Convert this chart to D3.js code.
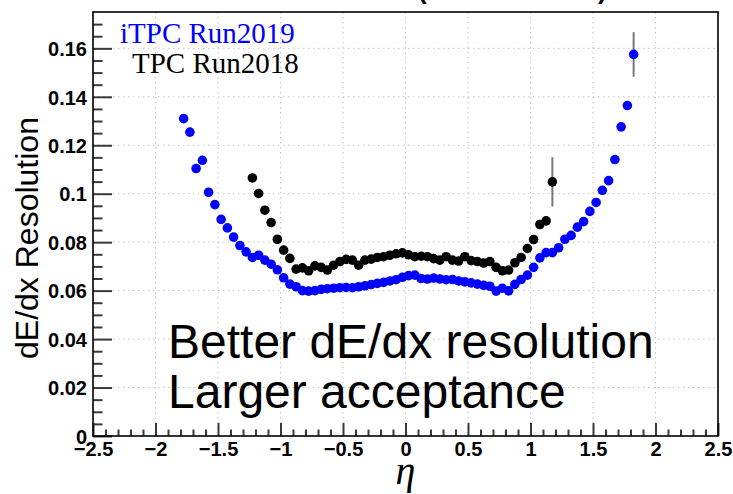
<!DOCTYPE html>
<html><head><meta charset="utf-8">
<script src="https://cdn.jsdelivr.net/npm/d3@7/dist/d3.min.js"></script>
<style>
html,body{margin:0;padding:0;background:#fff;}
svg{display:block;}
</style></head>
<body>
<svg id="chart" width="733" height="494"></svg>
<script>
// ---- data ----
const itpcEta = [-1.775,-1.725,-1.675,-1.625,-1.575,-1.525,-1.475,-1.425,-1.375,-1.325,-1.275,-1.225,-1.175,-1.125,-1.075,-1.025,-0.975,-0.925,-0.875,-0.825,-0.775,-0.725,-0.675,-0.625,-0.575,-0.525,-0.475,-0.425,-0.375,-0.325,-0.275,-0.225,-0.175,-0.125,-0.075,-0.025,0.025,0.075,0.125,0.175,0.225,0.275,0.325,0.375,0.425,0.475,0.525,0.575,0.625,0.675,0.725,0.775,0.825,0.875,0.925,0.975,1.025,1.075,1.125,1.175,1.225,1.275,1.325,1.375,1.425,1.475,1.525,1.575,1.625,1.675,1.725,1.775,1.825];
const itpcRes = [0.1310,0.1254,0.1104,0.1138,0.1006,0.0955,0.0894,0.0859,0.0821,0.0786,0.0760,0.0737,0.0746,0.0726,0.0709,0.0686,0.0653,0.0627,0.0616,0.0600,0.0598,0.0600,0.0605,0.0608,0.0610,0.0612,0.0613,0.0612,0.0616,0.0620,0.0625,0.0630,0.0634,0.0640,0.0645,0.0655,0.0662,0.0664,0.0650,0.0648,0.0652,0.0648,0.0645,0.0646,0.0640,0.0636,0.0632,0.0627,0.0622,0.0618,0.0598,0.0610,0.0599,0.0626,0.0646,0.0664,0.0696,0.0735,0.0757,0.0757,0.0777,0.0812,0.0828,0.0862,0.0885,0.0927,0.0964,0.1014,0.1054,0.1141,0.1276,0.1364,0.1575];
const tpcEta = [-1.225,-1.175,-1.125,-1.075,-1.025,-0.975,-0.925,-0.875,-0.825,-0.775,-0.725,-0.675,-0.625,-0.575,-0.525,-0.475,-0.425,-0.375,-0.325,-0.275,-0.225,-0.175,-0.125,-0.075,-0.025,0.025,0.075,0.125,0.175,0.225,0.275,0.325,0.375,0.425,0.475,0.525,0.575,0.625,0.675,0.725,0.775,0.825,0.875,0.925,0.975,1.025,1.075,1.125,1.175];
const tpcRes = [0.1065,0.1001,0.0932,0.0881,0.0812,0.0767,0.0733,0.0689,0.0694,0.0682,0.0702,0.0696,0.0685,0.0705,0.0720,0.0729,0.0726,0.0705,0.0726,0.0730,0.0737,0.0740,0.0746,0.0752,0.0756,0.0748,0.0740,0.0742,0.0740,0.0732,0.0726,0.0740,0.0726,0.0722,0.0740,0.0724,0.0720,0.0714,0.0720,0.0696,0.0682,0.0685,0.0715,0.0737,0.0774,0.0811,0.0873,0.0888,0.1049];
// visible error bars (eta, half-width)
const itpcErrEta = [1.825];
const itpcErr = [0.0092];
const tpcErrEta = [1.175];
const tpcErr = [0.0102];
const xMajor = [-2.5,-2,-1.5,-1,-0.5,0,0.5,1,1.5,2,2.5];
const xMinor = [-2.4,-2.3,-2.2,-2.1,-1.9,-1.8,-1.7,-1.6,-1.4,-1.3,-1.2,-1.1,-0.9,-0.8,-0.7,-0.6,-0.4,-0.3,-0.2,-0.1,0.1,0.2,0.3,0.4,0.6,0.7,0.8,0.9,1.1,1.2,1.3,1.4,1.6,1.7,1.8,1.9,2.1,2.2,2.3,2.4];
const yMajor = [0,0.02,0.04,0.06,0.08,0.1,0.12,0.14,0.16];
const yMinor = [0.005,0.01,0.015,0.025,0.03,0.035,0.045,0.05,0.055,0.065,0.07,0.075,0.085,0.09,0.095,0.105,0.11,0.115,0.125,0.13,0.135,0.145,0.15,0.155,0.165,0.17];
const seriesNames = ["iTPC Run2019","TPC Run2018"];
const notes = ["Better dE/dx resolution","Larger acceptance"];

// ---- layout ----
const svg = d3.select("#chart");
const L = 93, R = 718, T = 12, B = 436;
const x = d3.scaleLinear().domain([-2.5,2.5]).range([L,R]);
const y = d3.scaleLinear().domain([0,0.175]).range([B,T]);
const labelFont = "'Liberation Sans', Arial, sans-serif";

// partial (cut-off) title
const tg = svg.append("g").attr("font-family",labelFont).attr("font-weight","bold").attr("font-size",26).attr("fill","#000");
tg.append("text").attr("x",418).attr("y",-1).text("(");
tg.append("text").attr("x",598).attr("y",-1).text(")");

// grid
const grid = svg.append("g").attr("stroke","#c4c4c4").attr("stroke-width",1).attr("stroke-dasharray","1.5,3.5");
xMajor.slice(1,-1).forEach(v=>grid.append("line").attr("x1",x(v)).attr("x2",x(v)).attr("y1",T).attr("y2",B));
yMajor.slice(1).forEach(v=>grid.append("line").attr("x1",L).attr("x2",R).attr("y1",y(v)).attr("y2",y(v)));

// axes
const fmt = d => d===0 ? "0" : d3.format("~g")(d).replace("-","\u2212");
const xAx = svg.append("g").attr("transform",`translate(0,${B})`)
  .call(d3.axisBottom(x).tickValues(xMajor).tickSizeInner(-13).tickSizeOuter(0).tickPadding(5).tickFormat(fmt));
const xAxMin = svg.append("g").attr("transform",`translate(0,${B})`)
  .call(d3.axisBottom(x).tickValues(xMinor).tickSizeInner(-6.5).tickSizeOuter(0).tickFormat(""));
const yAx = svg.append("g").attr("transform",`translate(${L},0)`)
  .call(d3.axisLeft(y).tickValues(yMajor).tickSizeInner(-19).tickSizeOuter(0).tickPadding(6).tickFormat(fmt));
const yAxMin = svg.append("g").attr("transform",`translate(${L},0)`)
  .call(d3.axisLeft(y).tickValues(yMinor).tickSizeInner(-9.5).tickSizeOuter(0).tickFormat(""));
[xAx,xAxMin,yAx,yAxMin].forEach(g=>{
  g.select(".domain").remove();
  g.selectAll(".tick line").attr("stroke","#3a3a3a").attr("stroke-width",2);
  g.selectAll("text").attr("font-family",labelFont).attr("font-weight","bold").attr("font-size",20).attr("fill","#000");
});
xAx.selectAll("text").attr("dy","0.74em");
yAx.selectAll("text").attr("dy","0.36em");

// frame
svg.append("rect").attr("x",L).attr("y",T).attr("width",R-L).attr("height",B-T)
  .attr("fill","none").attr("stroke","#000").attr("stroke-width",1.6);

// axis titles
svg.append("text").attr("transform",`translate(38,238) rotate(-90)`)
  .attr("text-anchor","middle").attr("font-family",labelFont).attr("font-size",32).text("dE/dx Resolution");
svg.append("text").attr("x",(L+R)/2).attr("y",484).attr("text-anchor","middle")
  .attr("font-family","'Liberation Serif', 'Times New Roman', serif").attr("font-style","italic").attr("font-size",40).text("\u03b7");

// error bars
const eb = svg.append("g").attr("stroke","#777").attr("stroke-width",2);
itpcErrEta.forEach((e,i)=>{const v=itpcRes[itpcEta.indexOf(e)];
  eb.append("line").attr("x1",x(e)).attr("x2",x(e)).attr("y1",y(v-itpcErr[i])).attr("y2",y(v+itpcErr[i]));});
tpcErrEta.forEach((e,i)=>{const v=tpcRes[tpcEta.indexOf(e)];
  eb.append("line").attr("x1",x(e)).attr("x2",x(e)).attr("y1",y(v-tpcErr[i])).attr("y2",y(v+tpcErr[i]));});

// markers
svg.append("g").selectAll("circle").data(tpcEta.map((e,i)=>[e,tpcRes[i]])).join("circle")
  .attr("cx",d=>x(d[0])).attr("cy",d=>y(d[1])).attr("r",4.8).attr("fill","#000");
svg.append("g").selectAll("circle").data(itpcEta.map((e,i)=>[e,itpcRes[i]])).join("circle")
  .attr("cx",d=>x(d[0])).attr("cy",d=>y(d[1])).attr("r",4.8).attr("fill","#0000ff");

// legend
const lg = svg.append("g").attr("font-family","'Liberation Serif', 'Times New Roman', serif").attr("font-size",29);
lg.append("text").attr("x",120).attr("y",43).attr("fill","#0000ff").text(seriesNames[0]);
lg.append("text").attr("x",132).attr("y",73).attr("fill","#000").text(seriesNames[1]);

// annotations
const ng = svg.append("g").attr("font-family",labelFont).attr("font-size",48).attr("fill","#000");
ng.append("text").attr("x",168).attr("y",358).text(notes[0]);
ng.append("text").attr("x",168).attr("y",408).text(notes[1]);
</script>
</body></html>
